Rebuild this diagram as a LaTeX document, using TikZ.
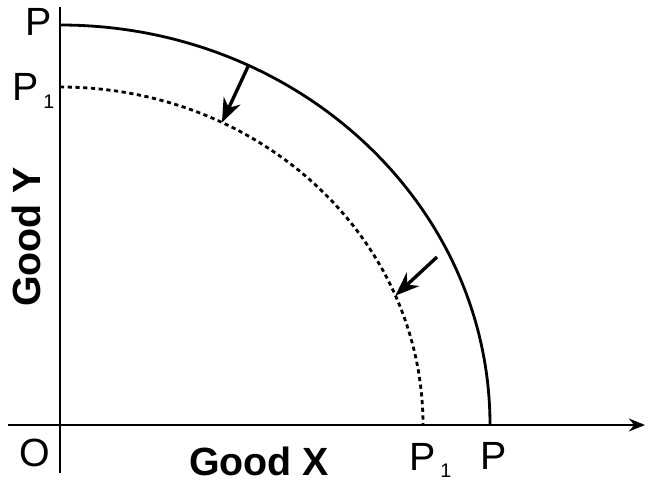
\documentclass[tikz,border=0pt]{standalone}
\usepackage{fontspec}
\setmainfont{Liberation Sans}
\usetikzlibrary{arrows.meta}
\newcommand{\lowsub}[1]{\kern0.12em\raisebox{-0.2cm}{\fontsize{14}{14}\selectfont #1}}

\begin{document}
\begin{tikzpicture}[>=Stealth,
  axis/.style={line width=2pt},
  ppf/.style={line width=2pt},
  ppfnew/.style={line width=2pt,dash pattern=on 3pt off 2.5pt},
  shiftarrow/.style={line width=2.4pt,-{Stealth[length=6mm,width=4.6mm]}},
  lbl/.style={font=\fontsize{28}{30}\selectfont,inner sep=0pt},
  axlbl/.style={font=\fontsize{28}{30}\selectfont\bfseries,inner sep=0pt}]
\useasboundingbox (-1.5,-1.475) rectangle (14.7,10.625);
\coordinate (O) at (0,0);
\coordinate (ytop) at (0,10.45);
\coordinate (ybot) at (0,-1.2);
\coordinate (xleft) at (-1.3,0);
\coordinate (xright) at (14.625,0);
\draw[axis] (ybot)--(ytop);
\draw[axis,-{Stealth[length=4mm,width=3.2mm]}] (xleft)--(xright);
% old and new frontier
\coordinate (PY) at (0,10);
\coordinate (P1Y) at (0,8.45);
\draw[ppf] (PY) arc[start angle=90,end angle=0,x radius=10.75cm,y radius=10cm];
\draw[ppfnew] (P1Y) arc[start angle=90,end angle=0,x radius=9.075cm,y radius=8.45cm];
% inward shift
\coordinate (s1) at (64:10.75cm and 10cm);
\coordinate (e1) at (63.5:9.075cm and 8.45cm);
\coordinate (s2) at (9.425,4.2);
\coordinate (e2) at (22.5:9.075cm and 8.45cm);
\draw[shiftarrow] (s1)--(e1);
\draw[shiftarrow] (s2)--(e2);
\node[lbl] (Ptop) at (-0.525,10.075) {P};
\node[lbl,anchor=base west] (P1top) at (-1.2,8.1) {P\lowsub{1}};
\node[lbl] (Olbl) at (-0.625,-0.7) {O};
\node[axlbl] (goodx) at (4.975,-0.9) {Good X};
\node[lbl,anchor=base west] (P1bot) at (8.725,-1.125) {P\lowsub{1}};
\node[lbl] (Pbot) at (10.85,-0.775) {P};
\node[axlbl,rotate=90] (goody) at (-0.85,4.7) {Good Y};
\end{tikzpicture}
\end{document}
